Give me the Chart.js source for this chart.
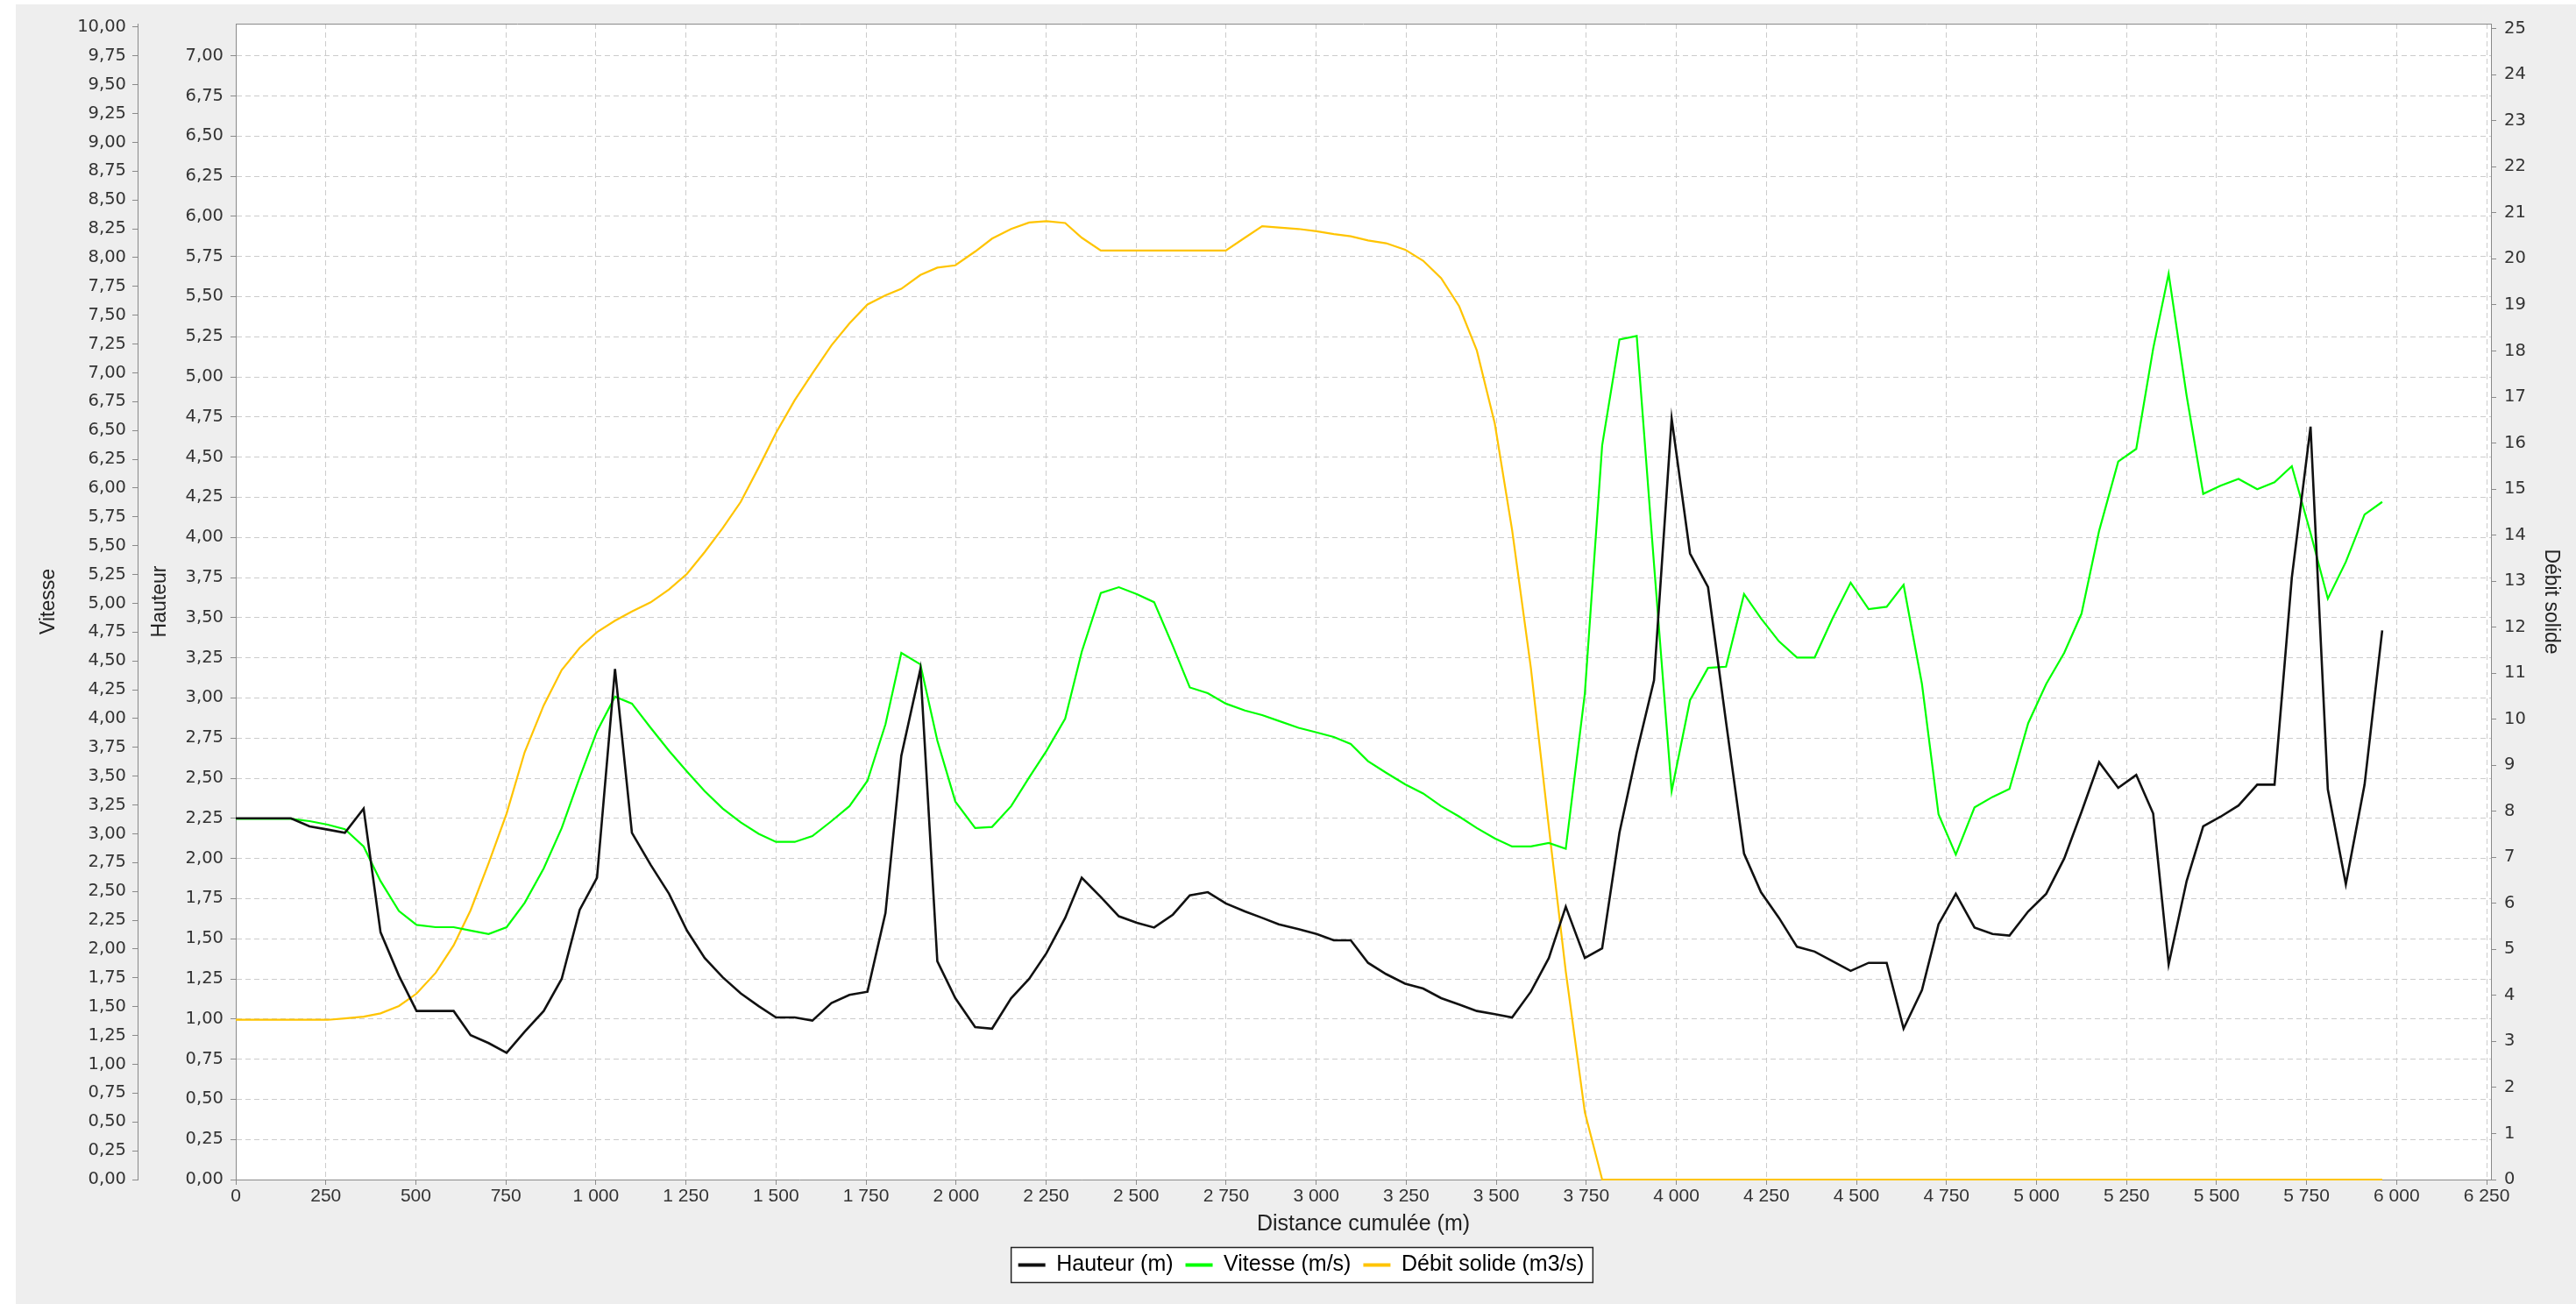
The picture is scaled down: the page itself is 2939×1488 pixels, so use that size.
<!DOCTYPE html>
<html lang="fr">
<head>
<meta charset="utf-8">
<title>Hauteur, vitesse et débit solide</title>
<script src="https://cdn.jsdelivr.net/npm/chart.js@4.4.1/dist/chart.umd.min.js"></script>
<style>
    html, body { margin: 0; padding: 0; background: #ffffff; }
    #cadre { position: absolute; left: 18px; top: 5px; width: 2921px; height: 1483px; background: #eeeeee; }
</style>
</head>
<body>
<div id="cadre"><canvas id="graphique" width="2921" height="1483"></canvas></div>
<script>
// ==================== DONNÉES ====================

// distance cumulée de chaque profil (m)
const distances = [
    0, 52, 105, 153, 205, 255, 303, 355, 402, 453, 502, 555, 605, 652, 702, 752,
    802, 855, 905, 955, 1003, 1053, 1100, 1152, 1203, 1253, 1302, 1352, 1402, 1452, 1500, 1552,
    1601, 1654, 1704, 1754, 1804, 1848, 1901, 1948, 1998, 2053, 2100, 2153, 2203, 2251, 2303, 2349,
    2402, 2452, 2502, 2550, 2602, 2649, 2699, 2749, 2802, 2850, 2896, 2951, 3001, 3049, 3096,
    3144, 3194, 3247, 3297, 3347, 3397, 3446, 3496, 3544, 3596, 3646, 3693, 3746, 3794, 3842, 3890,
    3938, 3987, 4038, 4088, 4138, 4188, 4235, 4285, 4335, 4384, 4434, 4484, 4534, 4584, 4631, 4682,
    4728, 4776, 4828, 4878, 4925, 4977, 5027, 5077, 5125, 5174, 5227, 5277, 5324, 5367, 5417, 5463,
    5511, 5561, 5613, 5661, 5709, 5761, 5809, 5859, 5911, 5960
];

// hauteur d'eau (m)
const hauteur = [
    2.25, 2.25, 2.25, 2.25, 2.20, 2.18, 2.16, 2.31, 1.54, 1.27, 1.05, 1.05, 1.05, 0.90, 0.85, 0.79,
    0.92, 1.05, 1.25, 1.68, 1.88, 3.18, 2.16, 1.96, 1.78, 1.55, 1.38, 1.26, 1.16, 1.08, 1.01, 1.01,
    0.99, 1.10, 1.15, 1.17, 1.66, 2.64, 3.18, 1.36, 1.13, 0.95, 0.94, 1.13, 1.25, 1.41, 1.63, 1.88,
    1.76, 1.64, 1.60, 1.57, 1.65, 1.77, 1.79, 1.72, 1.67, 1.63, 1.59, 1.56, 1.53, 1.49, 1.49,
    1.35, 1.28, 1.22, 1.19, 1.13, 1.09, 1.05, 1.03, 1.01, 1.17, 1.38, 1.70, 1.38, 1.44, 2.16, 2.66,
    3.11, 4.74, 3.90, 3.69, 2.85, 2.03, 1.79, 1.63, 1.45, 1.42, 1.36, 1.30, 1.35, 1.35, 0.94, 1.18,
    1.59, 1.78, 1.57, 1.53, 1.52, 1.67, 1.78, 2.00, 2.29, 2.60, 2.44, 2.52, 2.28, 1.34, 1.86, 2.20,
    2.26, 2.33, 2.46, 2.46, 3.75, 4.69, 2.43, 1.84, 2.46, 3.42
];

// vitesse (m/s)
const vitesse = [
    3.13, 3.13, 3.13, 3.13, 3.11, 3.08, 3.04, 2.89, 2.59, 2.33, 2.21, 2.19, 2.19, 2.16, 2.13, 2.19,
    2.40, 2.70, 3.05, 3.49, 3.89, 4.19, 4.13, 3.92, 3.72, 3.54, 3.37, 3.22, 3.10, 3.00, 2.93, 2.93,
    2.98, 3.11, 3.24, 3.46, 3.95, 4.57, 4.47, 3.81, 3.28, 3.05, 3.06, 3.24, 3.49, 3.72, 4.00, 4.58,
    5.09, 5.14, 5.08, 5.01, 4.63, 4.27, 4.22, 4.13, 4.07, 4.03, 3.98, 3.92, 3.88, 3.84, 3.78,
    3.63, 3.53, 3.43, 3.35, 3.24, 3.15, 3.05, 2.96, 2.89, 2.89, 2.92, 2.87, 4.22, 6.37, 7.29, 7.32,
    5.34, 3.37, 4.16, 4.44, 4.45, 5.08, 4.87, 4.67, 4.53, 4.53, 4.87, 5.18, 4.95, 4.97, 5.16, 4.30,
    3.17, 2.82, 3.23, 3.32, 3.39, 3.96, 4.30, 4.57, 4.91, 5.63, 6.23, 6.34, 7.21, 7.86, 6.80, 5.95,
    6.02, 6.08, 5.99, 6.05, 6.19, 5.61, 5.04, 5.36, 5.77, 5.88
];

// débit solide (m3/s)
const debitSolide = [
    3.47, 3.47, 3.47, 3.47, 3.47, 3.47, 3.50, 3.54, 3.61, 3.77, 4.04, 4.49, 5.09, 5.85, 6.87, 7.95,
    9.28, 10.30, 11.07, 11.55, 11.89, 12.14, 12.34, 12.54, 12.82, 13.16, 13.63, 14.15, 14.72, 15.47, 16.22, 16.93,
    17.51, 18.12, 18.60, 19.01, 19.21, 19.35, 19.65, 19.81, 19.86, 20.16, 20.44, 20.65, 20.79, 20.82, 20.78, 20.46,
    20.18, 20.18, 20.18, 20.18, 20.18, 20.18, 20.18, 20.18, 20.46, 20.71, 20.68, 20.65, 20.60, 20.54, 20.49,
    20.40, 20.34, 20.20, 19.96, 19.58, 18.97, 18.01, 16.42, 14.11, 11.12, 7.65, 4.52, 1.46, 0, 0, 0,
    0, 0, 0, 0, 0, 0, 0, 0, 0, 0, 0, 0, 0, 0, 0, 0,
    0, 0, 0, 0, 0, 0, 0, 0, 0, 0, 0, 0, 0, 0, 0, 0,
    0, 0, 0, 0, 0, 0, 0, 0, 0, 0
];

// graduations de l'axe des distances (m)
const graduationsDistance = [
    0, 250, 500, 750, 1000, 1250, 1500, 1750, 2000, 2250, 2500, 2750, 3000,
    3250, 3500, 3750, 4000, 4250, 4500, 4750, 5000, 5250, 5500, 5750, 6000, 6250
];

// ==================== MISE EN FORME ====================

const GRILLE = '#cccccc';
const AXE = '#8a8a8a';
const TEXTE = '#333333';
const POLICE_TICKS = { family: "'DejaVu Sans', sans-serif", size: 19.5 };

function versPoints(valeurs) {
    return distances.map((d, i) => ({ x: d, y: valeurs[i] }));
}

function formatDecimal(v) {
    return v.toFixed(2).replace('.', ',');
}

function formatDistance(v) {
    if (v < 1000) return String(v);
    return Math.floor(v / 1000) + ' ' + String(v % 1000).padStart(3, '0');
}

// fond blanc du tracé + cadre de la légende
const fondTrace = {
    id: 'fondTrace',
    beforeDraw(chart) {
        const { ctx, chartArea: a } = chart;
        ctx.save();
        ctx.fillStyle = '#ffffff';
        ctx.fillRect(a.left, a.top, a.right - a.left, a.bottom - a.top);

        const boites = chart.legend && chart.legend.legendHitBoxes;
        if (boites && boites.length) {
            const g = Math.min(...boites.map(b => b.left)) - 8;
            const d = Math.max(...boites.map(b => b.left + b.width)) + 10;
            const milieu = boites[0].top + boites[0].height / 2;
            ctx.fillRect(g, milieu - 20, d - g, 40);
            ctx.strokeStyle = '#222222';
            ctx.lineWidth = 1.5;
            ctx.strokeRect(g, milieu - 20, d - g, 40);
        }
        ctx.restore();
    },
    beforeDatasetsDraw(chart) {
        const { ctx, chartArea: a } = chart;
        ctx.save();
        ctx.strokeStyle = AXE;
        ctx.lineWidth = 1;
        ctx.beginPath();
        ctx.moveTo(a.left, a.top + 0.5);
        ctx.lineTo(a.right, a.top + 0.5);
        ctx.stroke();
        ctx.restore();
    }
};

Chart.defaults.font.family = "'Liberation Sans', Arial, sans-serif";
Chart.defaults.color = TEXTE;

const ctx = document.getElementById('graphique').getContext('2d');

new Chart(ctx, {
    type: 'line',
    data: {
        datasets: [
            {
                label: 'Hauteur (m)',
                data: versPoints(hauteur),
                yAxisID: 'yHauteur',
                borderColor: '#111111',
                borderWidth: 2.6
            },
            {
                label: 'Vitesse (m/s)',
                data: versPoints(vitesse),
                yAxisID: 'yVitesse',
                borderColor: '#00ff00',
                borderWidth: 2.2
            },
            {
                label: 'Débit solide (m3/s)',
                data: versPoints(debitSolide),
                yAxisID: 'yDebit',
                borderColor: '#ffc400',
                borderWidth: 2.2
            }
        ]
    },
    options: {
        responsive: false,
        animation: false,
        devicePixelRatio: 1,
        layout: { padding: { left: 15, right: 3, top: 22, bottom: 22 } },
        elements: {
            point: { radius: 0, hoverRadius: 0 },
            line: { tension: 0, fill: false }
        },
        datasets: { line: { clip: false } },
        plugins: {
            tooltip: { enabled: false },
            legend: {
                position: 'bottom',
                labels: {
                    boxWidth: 31,
                    boxHeight: 4,
                    padding: 14,
                    color: '#111111',
                    font: { size: 25 },
                    generateLabels: chart => chart.data.datasets.map((ds, i) => ({
                        text: ds.label,
                        fillStyle: ds.borderColor,
                        strokeStyle: ds.borderColor,
                        lineWidth: 0,
                        hidden: false,
                        datasetIndex: i
                    }))
                }
            }
        },
        scales: {
            x: {
                type: 'linear',
                position: 'bottom',
                min: 0,
                max: 6262,
                afterFit: s => { s.height = 71; },
                afterBuildTicks: s => { s.ticks = graduationsDistance.map(v => ({ value: v })); },
                ticks: {
                    autoSkip: false,
                    maxRotation: 0,
                    padding: 1,
                    font: { size: 21 },
                    callback: v => formatDistance(v)
                },
                grid: { color: GRILLE, tickColor: AXE, tickLength: 6 },
                border: { color: AXE, dash: [6, 4] },
                title: {
                    display: true,
                    text: 'Distance cumulée (m)',
                    font: { size: 25 },
                    color: '#222222',
                    padding: { top: 0, bottom: 5 }
                }
            },
            yVitesse: {
                type: 'linear',
                position: 'left',
                weight: 1,
                min: 0,
                max: 10.03,
                afterFit: s => { s.width = 124; },
                ticks: {
                    stepSize: 0.25,
                    includeBounds: false,
                    maxTicksLimit: 100,
                    padding: 7,
                    font: POLICE_TICKS,
                    callback: v => formatDecimal(v)
                },
                grid: { drawOnChartArea: false, tickColor: AXE, tickLength: 6 },
                border: { color: AXE },
                title: {
                    display: true,
                    text: 'Vitesse',
                    font: { size: 23 },
                    color: '#222222',
                    padding: { top: 9, bottom: 0 }
                }
            },
            yHauteur: {
                type: 'linear',
                position: 'left',
                weight: 0,
                min: 0,
                max: 7.2,
                afterFit: s => { s.width = 112; },
                ticks: {
                    stepSize: 0.25,
                    includeBounds: false,
                    maxTicksLimit: 100,
                    padding: 8,
                    font: POLICE_TICKS,
                    callback: v => formatDecimal(v)
                },
                grid: { color: GRILLE, tickColor: AXE, tickLength: 6 },
                border: { color: AXE, dash: [6, 4] },
                title: {
                    display: true,
                    text: 'Hauteur',
                    font: { size: 23 },
                    color: '#222222',
                    padding: { top: 12, bottom: 0 }
                }
            },
            yDebit: {
                type: 'linear',
                position: 'right',
                min: 0,
                max: 25.11,
                afterFit: s => { s.width = 94; },
                ticks: {
                    stepSize: 1,
                    includeBounds: false,
                    maxTicksLimit: 100,
                    padding: 9,
                    font: POLICE_TICKS,
                    callback: v => String(v)
                },
                grid: { drawOnChartArea: false, tickColor: AXE, tickLength: 6 },
                border: { color: AXE },
                title: {
                    display: true,
                    text: 'Débit solide',
                    font: { size: 23 },
                    color: '#222222',
                    padding: { top: 12, bottom: 0 }
                }
            }
        }
    },
    plugins: [fondTrace]
});
</script>
</body>
</html>
